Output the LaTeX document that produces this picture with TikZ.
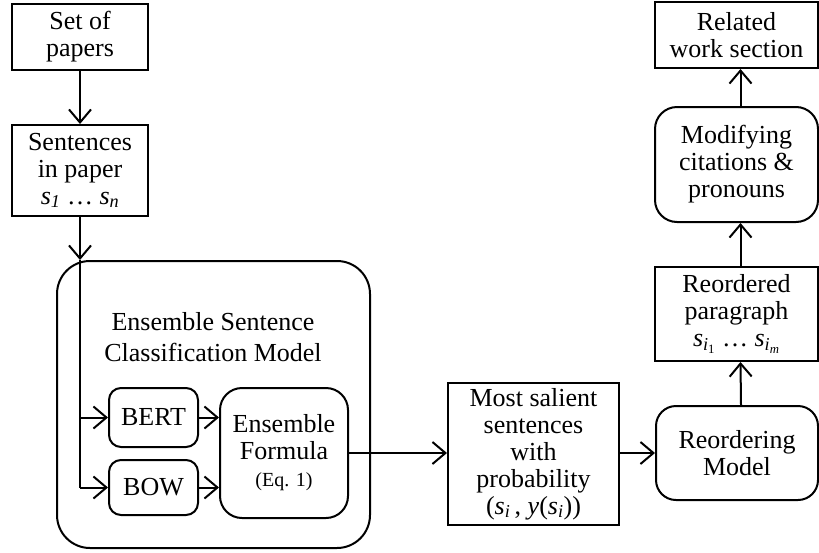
\documentclass[tikz,border=0pt]{standalone}
\usepackage{fontspec}
\setmainfont{Liberation Serif}
\usetikzlibrary{arrows.meta}
\newcommand\fsmain{\fontsize{26}{27}\selectfont}
\newcommand\fstitle{\fontsize{26}{31}\selectfont}
\newcommand\fssmall{\fontsize{20}{24}\selectfont}
\begin{document}
\begin{tikzpicture}[x=1pt,y=-1pt,
  box/.style={draw, line width=2pt, align=center, font=\fsmain, inner sep=0pt},
  arr/.style={-{Straight Barb[length=13pt,width=22pt]}, line width=2pt},
  ln/.style={line width=2pt}]
\useasboundingbox (0,0) rectangle (819,552);
% left column
\node[box, minimum width=136pt, minimum height=66pt] (setp) at (80,37) {Set of\\papers};
\node[box, minimum width=136pt, minimum height=91pt] (sent) at (80,170.5)
  {Sentences\\in paper\\\textit{s}\textsubscript{\textit{1}} … \textit{s}\textsubscript{\textit{n}}};
% big box
\node[box, rounded corners=33pt, minimum width=313pt, minimum height=287pt] (big) at (213.5,404.5) {};
\node[align=center, font=\fstitle, inner sep=0pt] (title) at (213,337) {Ensemble Sentence\\Classification Model};
\node[box, rounded corners=12pt, minimum width=89pt, minimum height=59pt] (bert) at (153.5,417.5) {BERT};
\node[box, rounded corners=12pt, minimum width=89pt, minimum height=55pt] (bow) at (153.5,487.5) {BOW};
\node[box, rounded corners=22pt, minimum width=128pt, minimum height=130pt] (form) at (284,453)
  {Ensemble\\Formula\\{\fssmall (Eq. 1)}};
% middle
\node[box, minimum width=171pt, minimum height=142pt] (sal) at (533.5,454)
  {Most salient\\sentences\\with\\probability\\(\textit{s}\textsubscript{\textit{i}}\,, \textit{y}(\textit{s}\textsubscript{\textit{i}}))};
% right column
\node[box, rounded corners=20pt, minimum width=162pt, minimum height=94pt] (model) at (737,453) {Reordering\\Model};
\node[box, minimum width=163pt, minimum height=94pt] (para) at (736.5,314)
  {Reordered\\paragraph\\\textit{s}\textsubscript{\textit{i}\textsubscript{1}} … \textit{s}\textsubscript{\textit{i}\textsubscript{\textit{m}}}};
\node[box, rounded corners=22pt, minimum width=163pt, minimum height=115pt] (mod) at (736.5,164.5)
  {Modifying\\citations \&\\pronouns};
\node[box, minimum width=163pt, minimum height=66pt] (rel) at (736.5,35) {Related\\work section};
% connectors
\draw[arr] (setp.south) -- (sent.north);
\coordinate (entry) at (sent.south |- big.north);
\coordinate (jb) at (sent.south |- bert.west);
\coordinate (jw) at (sent.south |- bow.west);
\draw[arr] (sent.south) -- (entry);
\draw[ln] (entry) -- (jw);
\draw[arr] (jb) -- (bert.west);
\draw[arr] (jw) -- (bow.west);
\draw[arr] (bert.east) -- (bert.east -| form.west);
\draw[arr] (bow.east) -- (bow.east -| form.west);
\draw[arr] (form.east) -- (form.east -| sal.west);
\draw[arr] (sal.east |- model.west) -- (model.west);
\draw[arr] ([xshift=4pt]model.north) -- ([xshift=4pt]para.south);
\draw[arr] ([xshift=4pt]para.north) -- ([xshift=4pt]mod.south);
\draw[arr] ([xshift=4pt]mod.north) -- ([xshift=4pt]rel.south);
\end{tikzpicture}
\end{document}
